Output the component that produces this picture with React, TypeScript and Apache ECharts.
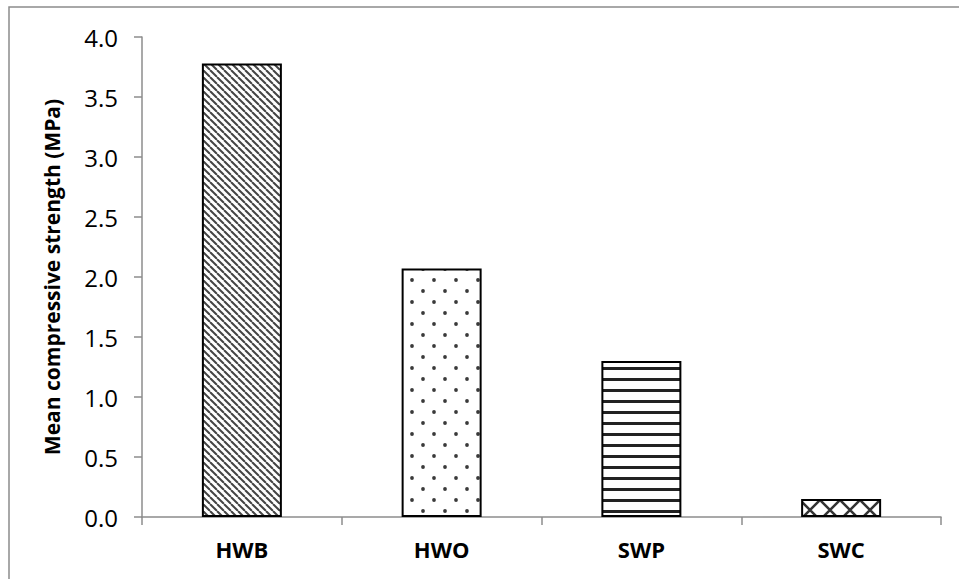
import React, { useEffect, useRef } from "react";
import * as echarts from "echarts";

const categories = ["HWB", "HWO", "SWP", "SWC"];
const values = [3.78, 2.07, 1.3, 0.15];
const yTicks = ["0.0", "0.5", "1.0", "1.5", "2.0", "2.5", "3.0", "3.5", "4.0"];
const yTitle = "Mean compressive strength (MPa)";

function makeCanvas(w: number, h: number, draw: (c: CanvasRenderingContext2D) => void) {
  const cv = document.createElement("canvas");
  cv.width = w;
  cv.height = h;
  const ctx = cv.getContext("2d")!;
  ctx.fillStyle = "#ffffff";
  ctx.fillRect(0, 0, w, h);
  draw(ctx);
  return cv;
}

function patterns() {
  const diag = makeCanvas(7, 7, (c) => {
    c.strokeStyle = "#444";
    c.lineWidth = 2;
    for (const k of [-7, 0, 7]) {
      c.beginPath();
      c.moveTo(k, 0);
      c.lineTo(k + 7, 7);
      c.stroke();
    }
  });
  const dots = makeCanvas(22, 22, (c) => {
    c.fillStyle = "#3a3a3a";
    for (const [x, y] of [[5, 5], [16, 16]]) {
      c.beginPath();
      c.arc(x, y, 1.9, 0, Math.PI * 2);
      c.fill();
    }
  });
  const horiz = makeCanvas(4, 11, (c) => {
    c.fillStyle = "#222";
    c.fillRect(0, 4, 4, 3);
  });
  const cross = makeCanvas(20, 20, (c) => {
    c.strokeStyle = "#333";
    c.lineWidth = 2.5;
    c.beginPath();
    c.moveTo(-2, -2);
    c.lineTo(22, 22);
    c.moveTo(22, -2);
    c.lineTo(-2, 22);
    c.stroke();
  });
  return [diag, dots, horiz, cross];
}

export default function App() {
  const ref = useRef<HTMLDivElement>(null);
  useEffect(() => {
    if (!ref.current) return;
    const chart = echarts.init(ref.current, null, { renderer: "svg" });
    const pats = patterns();
    chart.setOption({
      animation: false,
      backgroundColor: "#ffffff",
      graphic: [
        {
          type: "polyline",
          shape: { points: [[9, 579], [9, 7], [959, 7]] },
          style: { stroke: "#8c8c8c", lineWidth: 1.5, fill: "none" },
          silent: true,
        },
      ],
      grid: { left: 142, right: 18, top: 37, bottom: 62, containLabel: false },
      xAxis: {
        type: "category",
        data: categories,
        axisLine: { lineStyle: { color: "#8c8c8c", width: 1.5 } },
        axisTick: { show: true, length: 8, alignWithLabel: false, lineStyle: { color: "#8c8c8c", width: 1.5 } },
        axisLabel: {
          color: "#000",
          fontFamily: "Open Sans",
          fontWeight: "bold",
          fontSize: 22,
          margin: 21,
        },
      },
      yAxis: {
        type: "value",
        min: 0,
        max: 4,
        interval: 0.5,
        name: yTitle,
        nameLocation: "middle",
        nameGap: 80,
        nameTextStyle: {
          color: "#000",
          fontFamily: "Open Sans",
          fontWeight: "bold",
          fontSize: 21,
        },
        splitLine: { show: false },
        axisLine: { show: true, lineStyle: { color: "#8c8c8c", width: 1.5 } },
        axisTick: { show: true, length: 8, lineStyle: { color: "#8c8c8c", width: 1.5 } },
        axisLabel: {
          color: "#000",
          fontFamily: "Open Sans",
          fontSize: 24,
          margin: 24,
          formatter: (v: number) => yTicks[Math.round(v * 2)] ?? v.toFixed(1),
        },
      },
      series: [
        {
          type: "bar",
          barWidth: 80,
          data: values.map((v, i) => ({
            value: v,
            itemStyle: {
              color: { image: pats[i], repeat: "repeat" },
              borderColor: "#000",
              borderWidth: 2,
            },
          })),
        },
      ],
    });
    return () => chart.dispose();
  }, []);
  return (
    <div
      ref={ref}
      style={{ position: "absolute", left: 0, top: 0, width: 959, height: 579 }}
    />
  );
}
